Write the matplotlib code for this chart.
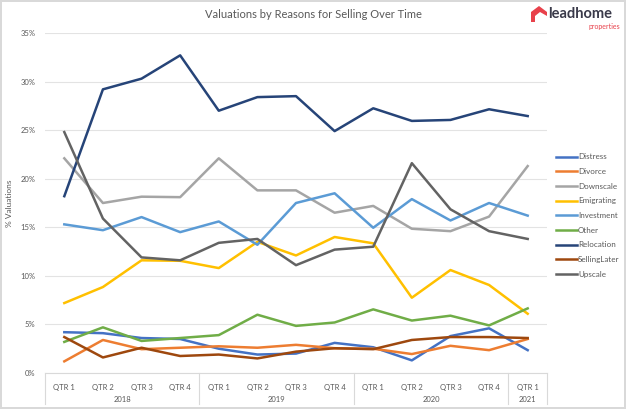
import matplotlib.pyplot as plt
from matplotlib.patches import Polygon
from matplotlib.ticker import PercentFormatter

plt.rcParams['font.family'] = ['Lato', 'DejaVu Sans']

quarters = ['QTR 1', 'QTR 2', 'QTR 3', 'QTR 4'] * 3 + ['QTR 1']
years = ['2018', '2019', '2020', '2021']
year_spans = [(0, 3), (4, 7), (8, 11), (12, 12)]

distress = [4.2, 4.1, 3.6, 3.5, 2.5, 1.9, 2.0, 3.1, 2.65, 1.3, 3.8, 4.6, 2.35]
divorce = [1.2, 3.4, 2.45, 2.6, 2.75, 2.6, 2.9, 2.55, 2.5, 1.95, 2.8, 2.35, 3.5]
downscale = [22.1, 17.5, 18.15, 18.1, 22.1, 18.8, 18.8, 16.5, 17.2, 14.85, 14.6, 16.1, 21.3]
emigrating = [7.2, 8.85, 11.6, 11.55, 10.8, 13.5, 12.1, 14.0, 13.35, 7.75, 10.6, 9.06, 6.1]
investment = [15.3, 14.7, 16.05, 14.5, 15.6, 13.2, 17.5, 18.5, 14.95, 17.9, 15.7, 17.5, 16.2]
other = [3.2, 4.7, 3.3, 3.6, 3.9, 6.0, 4.85, 5.2, 6.55, 5.4, 5.9, 4.9, 6.65]
relocation = [18.2, 29.2, 30.3, 32.7, 27.0, 28.4, 28.5, 24.9, 27.25, 25.95, 26.05, 27.15, 26.45]
selling_later = [3.7, 1.6, 2.6, 1.75, 1.9, 1.5, 2.2, 2.55, 2.45, 3.4, 3.7, 3.7, 3.6]
upscale = [24.8, 15.9, 11.9, 11.6, 13.4, 13.8, 11.1, 12.7, 13.0, 21.6, 16.85, 14.6, 13.8]

series = [
    ('Distress', distress, '#4472C4'),
    ('Divorce', divorce, '#ED7D31'),
    ('Downscale', downscale, '#A5A5A5'),
    ('Emigrating', emigrating, '#FFC000'),
    ('Investment', investment, '#5B9BD5'),
    ('Other', other, '#70AD47'),
    ('Relocation', relocation, '#264478'),
    ('SellingLater', selling_later, '#9E480E'),
    ('Upscale', upscale, '#636363'),
]

fig = plt.figure(figsize=(6.26, 4.09), dpi=100)
fig.patch.set_edgecolor('#D9D9D9')
fig.patch.set_linewidth(1.5)
ax = fig.add_axes([45 / 626, 36 / 409, 502 / 626, 340 / 409])

x = list(range(len(quarters)))
for name, vals, col in series:
    ax.plot(x, vals, color=col, linewidth=1.8, label=name)

ax.set_xlim(-0.5, len(quarters) - 0.5)
ax.set_ylim(0, 35)
ax.set_yticks(range(0, 36, 5))
ax.yaxis.set_major_formatter(PercentFormatter(decimals=0))
ax.grid(axis='y', color='#E3E3E3', linewidth=0.8)
ax.set_axisbelow(True)
for s in ['top', 'right', 'left']:
    ax.spines[s].set_visible(False)
ax.spines['bottom'].set_color('#D9D9D9')
ax.tick_params(axis='y', length=0, labelsize=5.5, labelcolor='#595959', pad=7)
ax.tick_params(axis='x', length=0, labelsize=5.5, labelcolor='#595959', pad=8)
ax.set_xticks(x)
ax.set_xticklabels(quarters)

# year group labels and separators
trans = ax.get_xaxis_transform()
bounds = [-0.5, 3.5, 7.5, 11.5, 12.5]
for b in bounds:
    ax.plot([b, b], [0, -0.09], transform=trans, color='#D9D9D9', linewidth=0.8, clip_on=False)
for yr, (a, b) in zip(years, year_spans):
    ax.text((a + b) / 2, -0.078, yr, transform=trans, ha='center', va='center',
            fontsize=5.5, color='#595959')

ax.set_ylabel('% Valuations', fontsize=6, color='#595959')
ax.yaxis.set_label_coords(-0.064, 0.5)
fig.text(313 / 626, 1 - 15 / 409, 'Valuations by Reasons for Selling Over Time',
         ha='center', va='center', fontsize=8, color='#595959')

ax.legend(loc='center left', bbox_to_anchor=(1.012, 0.463), frameon=False, fontsize=5.8,
          labelcolor='#595959', handlelength=2.6, handletextpad=0.1,
          labelspacing=0.95, borderaxespad=0.0)

# logo
house = Polygon([(531, 22), (531, 12), (539, 6), (547, 12), (547, 16), (540, 12), (535, 16), (535, 22)],
                closed=True, facecolor='#E8414B', edgecolor='none', transform=None)
house.set_xy([(px, 409 - py) for px, py in house.get_xy()])
fig.patches.append(house)
fig.text(548 / 626, 1 - 14 / 409, 'leadhome', ha='left', va='center', fontsize=10.5,
         fontweight='bold', color='#3A3A4A')
fig.text(620 / 626, 1 - 26 / 409, 'properties', ha='right', va='center', fontsize=5,
         color='#E8414B')

fig.savefig('out.png', dpi=100)
